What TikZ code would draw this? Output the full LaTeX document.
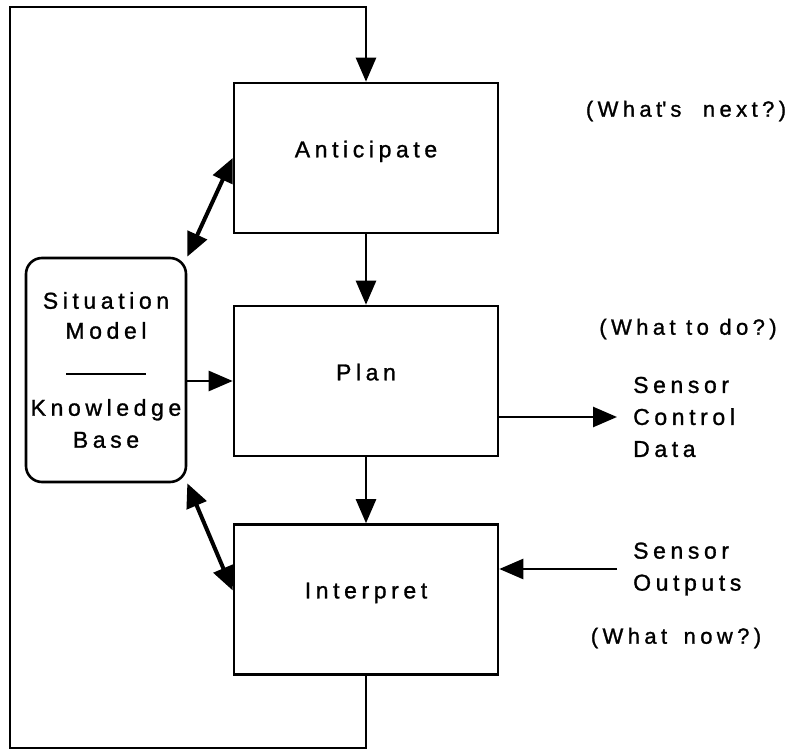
\documentclass[tikz,border=0pt]{standalone}
\usepackage{fontspec}
\setmainfont[LetterSpace=20, FakeBold=1.2]{Liberation Sans}
\usetikzlibrary{arrows.meta, positioning}
\tikzset{
  stage/.style={draw, line width=2.6pt, minimum width=264pt, minimum height=150pt, text depth=18pt, inner sep=0pt},
  flow/.style={line width=2.6pt, -{Triangle[length=24pt,width=20pt]}},
  link/.style={line width=4pt, {Triangle[length=24pt,width=21pt]}-{Triangle[length=24pt,width=21pt]}},
  sidetext/.style={align=left, inner xsep=16pt, inner ysep=0pt},
  note/.style={font=\fontsize{22}{26}\selectfont},
}
\begin{document}
\begin{tikzpicture}[x=1pt, y=-1pt, font=\fontsize{23}{32}\selectfont]
  \useasboundingbox (0,0) rectangle (793,751);
  % the three stages
  \node[stage](Anticipate) at (366,158) {Anticipate};
  \node[stage](Plan) at (366,381) {Plan};
  \node[stage](Interpret) at (366,599.5) {Interpret};
  % situation model / knowledge base
  \node[draw, line width=2.6pt, rounded corners=16pt, minimum width=160pt, minimum height=224pt, align=center, inner sep=0pt](Model) at (106,370) {Situation\\[-2pt]Model\\[14pt]\rule[10pt]{80pt}{1.4pt}\\[-1pt]Knowledge\\Base};
  % sensor side
  \node[sidetext, anchor=west](Control) at (617,417) {Sensor\\Control\\Data};
  \node[sidetext, anchor=west](Outputs) at (617,569) {Sensor\\Outputs};
  \node[note](Next) at (686,111) {(What\textquotesingle\hspace{4pt}s\hspace{11pt} next?)};
  \node[note](ToDo) at (688,329) {(What to do?)};
  \node[note](Now) at (676,638) {(What\hspace{6pt} now?)};
  \draw[flow] (Anticipate) -- (Plan);
  \draw[flow] (Plan) -- (Interpret);
  \draw[flow] (Model.east |- Plan.west) -- (Plan.west);
  \draw[flow] (Plan.east |- Control.west) -- (Control.west);
  \draw[flow] (Outputs.west) -- (Outputs.west -| Interpret.east);
  \draw[link] (Model.north east) -- (Anticipate.west);
  \draw[link] (Model.south east) -- ([yshift=9pt]Interpret.west);
  % feedback loop
  \coordinate(LowLeft) at (10,748);
  \coordinate(TopLeft) at (10,7);
  \draw[flow] (Interpret.south) |- (LowLeft) -- (TopLeft) -| (Anticipate.north);
\end{tikzpicture}
\end{document}
